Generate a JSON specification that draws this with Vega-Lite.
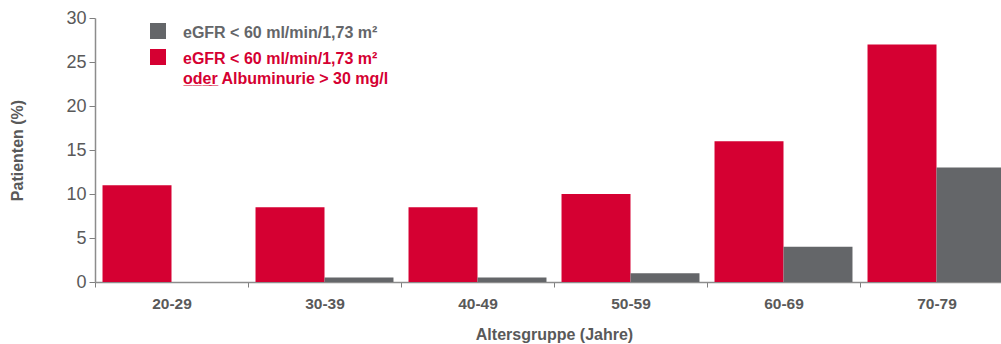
{
  "$schema": "https://vega.github.io/schema/vega-lite/v6.json",
  "autosize": {"type": "none"},
  "padding": {"left": 95, "top": 18, "right": 0, "bottom": 62},
  "width": 906,
  "height": 264,
  "background": "white",
  "data": {
    "values": [
      {"gruppe": "20-29", "serie": "B", "wert": 11},
      {"gruppe": "20-29", "serie": "A", "wert": 0},
      {"gruppe": "30-39", "serie": "B", "wert": 8.5},
      {"gruppe": "30-39", "serie": "A", "wert": 0.5},
      {"gruppe": "40-49", "serie": "B", "wert": 8.5},
      {"gruppe": "40-49", "serie": "A", "wert": 0.5},
      {"gruppe": "50-59", "serie": "B", "wert": 10},
      {"gruppe": "50-59", "serie": "A", "wert": 1},
      {"gruppe": "60-69", "serie": "B", "wert": 16},
      {"gruppe": "60-69", "serie": "A", "wert": 4},
      {"gruppe": "70-79", "serie": "B", "wert": 27},
      {"gruppe": "70-79", "serie": "A", "wert": 13}
    ]
  },
  "mark": {"type": "bar", "clip": true},
  "encoding": {
    "x": {
      "field": "gruppe",
      "type": "nominal",
      "sort": null,
      "scale": {"range": [0, 918], "paddingInner": 0, "paddingOuter": 0},
      "axis": {
        "title": "Altersgruppe (Jahre)",
        "labelAngle": 0,
        "bandPosition": 0.5,
        "tickBand": "extent",
        "tickSize": 5,
        "tickColor": "#7f7f7f",
        "domainColor": "#8c8c8c",
        "domainWidth": 1.5,
        "labelFont": "Liberation Sans",
        "labelFontSize": 15.5,
        "labelFontWeight": "bold",
        "labelColor": "#595959",
        "labelPadding": 9,
        "titleFont": "Liberation Sans",
        "titleFontSize": 16,
        "titleFontWeight": "bold",
        "titleColor": "#595959",
        "titlePadding": 15
      }
    },
    "xOffset": {
      "field": "serie",
      "type": "nominal",
      "sort": ["B", "A"],
      "scale": {"paddingInner": 0, "paddingOuter": 0.109}
    },
    "y": {
      "field": "wert",
      "type": "quantitative",
      "scale": {"domain": [0, 30], "nice": false},
      "axis": {
        "title": "Patienten (%)",
        "values": [0, 5, 10, 15, 20, 25, 30],
        "grid": false,
        "tickSize": 6,
        "tickColor": "#7f7f7f",
        "domainColor": "#8c8c8c",
        "domainWidth": 1.5,
        "labelFont": "Liberation Sans",
        "labelFontSize": 18,
        "labelColor": "#595959",
        "labelPadding": 3,
        "titleFont": "Liberation Sans",
        "titleFontSize": 16,
        "titleFontWeight": "bold",
        "titleColor": "#595959",
        "titlePadding": 40
      }
    },
    "color": {
      "field": "serie",
      "type": "nominal",
      "scale": {"domain": ["A", "B"], "range": ["#646669", "#d50032"]},
      "legend": {
        "title": null,
        "orient": "none",
        "legendX": 55,
        "legendY": 5,
        "symbolType": "square",
        "symbolSize": 256,
        "symbolStrokeWidth": 0,
        "symbolOpacity": 1,
        "labelFont": "Liberation Sans",
        "labelFontSize": 16,
        "labelFontWeight": "bold",
        "labelOffset": 17,
        "labelLimit": 400,
        "rowPadding": 8,
        "labelExpr": "datum.value == 'B' ? ['eGFR < 60 ml/min/1,73 m²', 'o̲d̲e̲r̲ Albuminurie > 30 mg/l'] : 'eGFR < 60 ml/min/1,73 m²'",
        "encode": {
          "labels": {
            "update": {
              "lineHeight": {"value": 20},
              "dy": {"value": 2},
              "fill": [
                {"test": "datum.value == 'B'", "value": "#d50032"},
                {"value": "#646669"}
              ]
            }
          }
        }
      }
    }
  },
  "config": {"view": {"stroke": null}}
}
